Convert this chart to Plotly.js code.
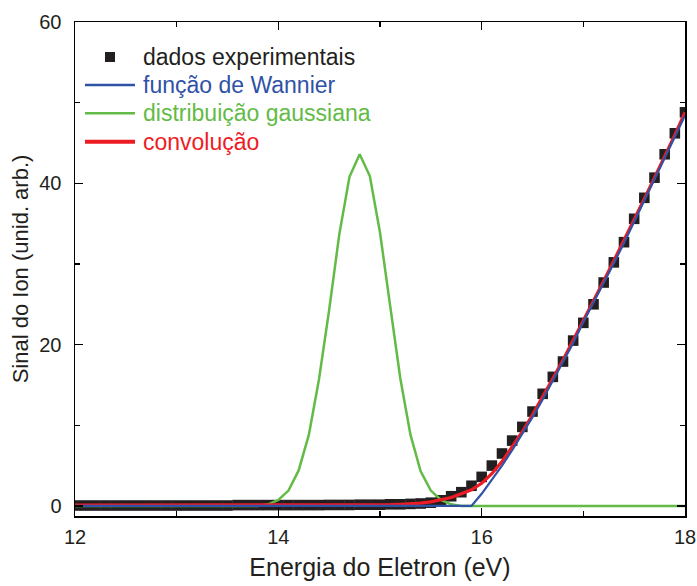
<!DOCTYPE html>
<html>
<head>
<meta charset="utf-8">
<script src="https://cdn.plot.ly/plotly-3.0.1.min.js"></script>
<style>html,body{margin:0;padding:0;background:#fff;}#chart{width:697px;height:586px;}</style>
</head>
<body>
<div id="chart"></div>
<script>
// Electron energy grid (eV)
const energia = [12.0,12.1,12.2,12.3,12.4,12.5,12.6,12.7,12.8,12.9,
  13.0,13.1,13.2,13.3,13.4,13.5,13.6,13.7,13.8,13.9,
  14.0,14.1,14.2,14.3,14.4,14.5,14.6,14.7,14.8,14.9,
  15.0,15.1,15.2,15.3,15.4,15.5,15.6,15.7,15.8,15.9,
  16.0,16.1,16.2,16.3,16.4,16.5,16.6,16.7,16.8,16.9,
  17.0,17.1,17.2,17.3,17.4,17.5,17.6,17.7,17.8,17.9,18.0];

// dados experimentais
const dados = [0.05,0.05,0.05,0.05,0.05,0.05,0.05,0.05,0.05,0.05,
  0.05,0.05,0.05,0.05,0.05,0.05,0.1,0.1,0.1,0.1,
  0.1,0.1,0.1,0.1,0.1,0.12,0.12,0.12,0.15,0.15,
  0.15,0.2,0.2,0.25,0.3,0.4,0.7,1.2,1.7,2.5,
  3.6,5.0,6.5,8.1,9.8,11.7,13.9,16.0,17.9,20.5,
  22.7,25.0,27.7,30.2,32.7,35.6,38.2,40.7,43.6,46.2,48.8];

// função de Wannier
const wannier = [0,0,0,0,0,0,0,0,0,0,
  0,0,0,0,0,0,0,0,0,0,
  0,0,0,0,0,0,0,0,0,0,
  0,0,0,0,0,0,0,0,0,0,
  1.5,3.2,5.0,6.9,8.9,11.0,13.2,15.5,17.8,20.2,
  22.8,25.2,27.6,30.1,32.6,35.2,37.8,40.4,43.0,45.7,48.4];

// distribuição gaussiana
const gaussiana = [0,0,0,0,0,0,0,0,0,0,
  0,0,0,0,0,0,0,0,0,0.2,
  0.75,1.9,4.4,8.8,15.7,24.3,33.7,40.8,43.6,40.9,
  33.9,24.8,15.8,8.8,4.3,1.9,0.75,0.2,0,0,
  0,0,0,0,0,0,0,0,0,0,
  0,0,0,0,0,0,0,0,0,0,0];

// convolução
const convolucao = [0.1,0.1,0.1,0.1,0.1,0.1,0.1,0.1,0.1,0.1,
  0.1,0.1,0.1,0.1,0.1,0.1,0.1,0.1,0.1,0.1,
  0.1,0.1,0.1,0.1,0.1,0.1,0.1,0.1,0.1,0.12,
  0.12,0.15,0.2,0.25,0.35,0.5,0.75,1.05,1.5,2.0,
  2.8,4.0,5.5,7.3,9.2,11.3,13.5,15.8,18.1,20.5,
  23.0,25.4,27.9,30.4,32.9,35.5,38.1,40.7,43.3,46.0,48.8];

const legendNames = ['dados experimentais', 'função de Wannier', 'distribuição gaussiana', 'convolução'];
const xTicks = [12,14,16,18];
const yTicks = [0,20,40,60];

const cBlack = '#231f20', cBlue = '#2f52a4', cGreen = '#62bb46', cRed = '#ed1c24';
const font = 'Liberation Sans, Arial, Helvetica, sans-serif';

// plot area in pixels (for placing the legend)
const W = 697, H = 586, mL = 75, mR = 12, mT = 22, mB = 70;
const pw = W - mL - mR, ph = H - mT - mB;
const px = v => (v - mL) / pw;
const py = v => (H - mB - v) / ph;

const traces = [
  {x: energia, y: dados, type: 'scatter', mode: 'markers', name: legendNames[0],
   marker: {symbol: 'square', size: 10.6, color: cBlack}},
  {x: energia, y: gaussiana, type: 'scatter', mode: 'lines', name: legendNames[2],
   line: {color: cGreen, width: 2.5}},
  {x: energia, y: convolucao, type: 'scatter', mode: 'lines', name: legendNames[3],
   line: {color: cRed, width: 3.2}},
  {x: energia, y: wannier, type: 'scatter', mode: 'lines', name: legendNames[1],
   line: {color: cBlue, width: 2.2}}
];

// legend (drawn manually for exact spacing)
const legRows = [57, 85, 113.3, 141.7];
const legColors = [cBlack, cBlue, cGreen, cRed];
const legWidths = [0, 2.4, 2.4, 4];
const shapes = [
  {type: 'rect', xref: 'paper', yref: 'paper', x0: px(105), x1: px(115), y0: py(62), y1: py(52),
   fillcolor: cBlack, line: {width: 0}}
];
for (let i = 1; i < 4; i++) {
  shapes.push({type: 'line', xref: 'paper', yref: 'paper', x0: px(85), x1: px(135),
    y0: py(legRows[i]), y1: py(legRows[i]), line: {color: legColors[i], width: legWidths[i]}});
}
const annotations = legendNames.map((t, i) => ({
  text: t, xref: 'paper', yref: 'paper', x: px(141), y: py(legRows[i]),
  xanchor: 'left', yanchor: 'middle', showarrow: false,
  font: {family: font, size: 23, color: i === 0 ? cBlack : legColors[i]}
}));

const axisCommon = {
  showgrid: false, zeroline: false, showline: true, linecolor: '#000', linewidth: 1.5,
  mirror: 'allticks', ticks: 'inside', ticklen: 8, tickwidth: 1.5, tickcolor: '#000',
  tickfont: {family: font, size: 20, color: cBlack},
  minor: {ticks: 'inside', ticklen: 5, tickwidth: 1.5, tickcolor: '#000'}
};

const layout = {
  width: W, height: H,
  paper_bgcolor: '#fff', plot_bgcolor: '#fff',
  margin: {l: mL, r: mR, t: mT, b: mB},
  showlegend: false,
  shapes: shapes,
  annotations: annotations,
  xaxis: Object.assign({}, axisCommon, {
    range: [12, 18], tickvals: xTicks, ticktext: xTicks.map(String),
    minor: Object.assign({}, axisCommon.minor, {tickvals: [13, 15, 17]}),
    ticklabelstandoff: 2,
    title: {text: 'Energia do Eletron (eV)', font: {family: font, size: 25, color: cBlack}, standoff: 12}
  }),
  yaxis: Object.assign({}, axisCommon, {
    range: [-1.25, 60], tickvals: yTicks, ticktext: yTicks.map(String),
    minor: Object.assign({}, axisCommon.minor, {tickvals: [10, 30, 50]}),
    ticklabelstandoff: 8,
    title: {text: 'Sinal do Ion (unid. arb.)', font: {family: font, size: 22, color: cBlack}, standoff: 4}
  })
};

Plotly.newPlot('chart', traces, layout, {displayModeBar: false, staticPlot: true});
</script>
</body>
</html>
